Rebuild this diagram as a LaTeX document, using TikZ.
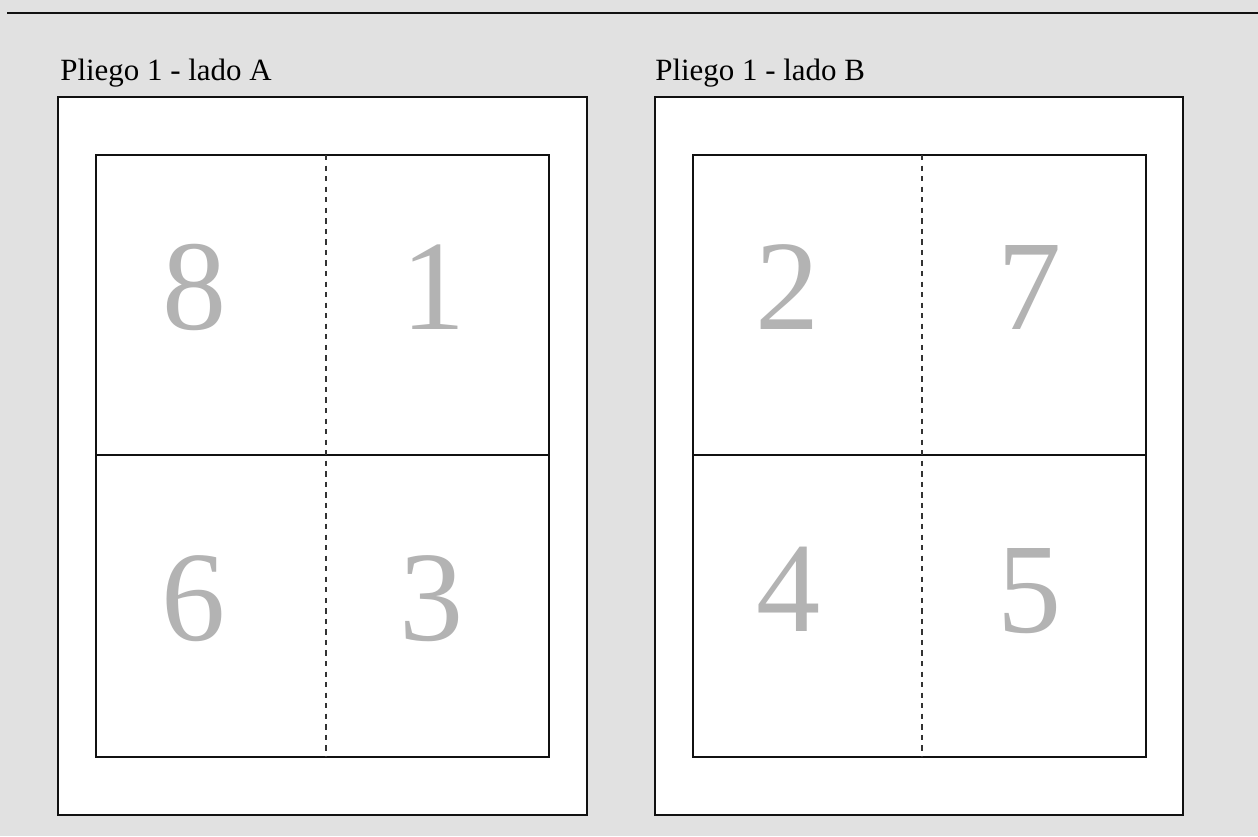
\documentclass[tikz,border=0pt]{standalone}
\usepackage{fontspec}
\setmainfont{Liberation Serif}
\usepackage{xcolor}
\usepackage{tikz}
\usetikzlibrary{positioning}
\definecolor{cBack}{HTML}{E1E1E1}
\definecolor{cInk}{HTML}{111111}
\definecolor{cNum}{HTML}{B3B3B3}
\definecolor{cDash}{HTML}{333333}
\tikzset{
  sheet/.style={draw=cInk,fill=white,line width=0.6pt},
  plate/.style={draw=cInk,line width=0.6pt},
  fold/.style={draw=cDash,dashed,line width=0.75pt},
  cut/.style={draw=cInk,line width=0.6pt},
  lab/.style={font=\fontsize{17.6}{20}\selectfont,text=black,anchor=base west,inner sep=0pt},
  pnum/.style={font=\fontsize{73}{73}\selectfont,text=cNum,anchor=base,inner sep=0pt},
}

\begin{document}
\begin{tikzpicture}[x=0.02cm,y=-0.02cm]
    \fill[cBack] (0,0) rectangle (1258,836);
    \useasboundingbox (0,0) rectangle (1258,836);
    \draw[cInk,line width=1.5pt] (7,13) -- (1258,13);
    % side A
    \node[lab] (labA) at (60,80) {Pliego 1 - lado A};
    \draw[sheet] (58,97) rectangle (587,815);
    \draw[plate] (96,155) rectangle (549,757);
    \draw[cut] (96,455) -- (549,455);
    \draw[fold] (326,155) -- (326,757);
    \node[pnum] (p8) at (195,329) {8};
    \node[pnum] (p1) at (434,329) {1};
    \node[pnum] (p6) at (194,640) {6};
    \node[pnum] (p3) at (432,640) {3};
    % side B
    \node[lab] (labB) at (655,80) {Pliego 1 - lado B};
    \draw[sheet] (655,97) rectangle (1183,815);
    \draw[plate] (693,155) rectangle (1146,757);
    \draw[cut] (693,455) -- (1146,455);
    \draw[fold] (922,155) -- (922,757);
    \node[pnum] (p2) at (788,329) {2};
    \node[pnum] (p7) at (1030,329) {7};
    \node[pnum] (p4) at (789,631) {4};
    \node[pnum] (p5) at (1030,632) {5};
  \end{tikzpicture}
\end{document}
